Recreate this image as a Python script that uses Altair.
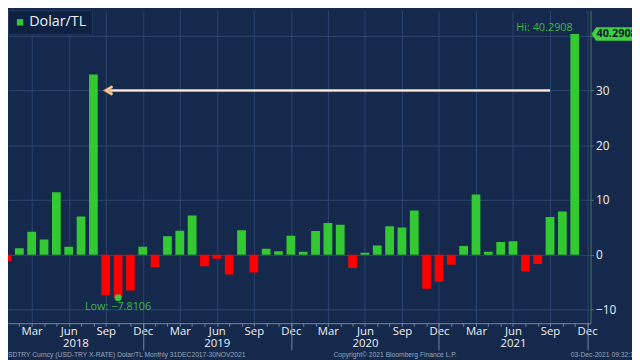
import altair as alt
import pandas as pd

# ---------------- data ----------------
MONTHS = ["Jan", "Feb", "Mar", "Apr", "May", "Jun", "Jul", "Aug", "Sep", "Oct", "Nov", "Dec"]
FIRST_YEAR = 2018          # month index 0 = Jan 2018
SERIES = "Dolar/TL"
# monthly % change of USD/TRY, Jan 2018 .. Nov 2021
VALUES_2018 = [-1.1, 1.2, 4.2, 2.8, 11.4, 1.5, 7.0, 32.9, -7.3, -7.8106, -6.5, 1.5]
VALUES_2019 = [-2.3, 3.4, 4.4, 7.2, -2.1, -0.7, -3.6, 4.5, -3.2, 1.1, 0.65, 3.5]
VALUES_2020 = [0.55, 4.35, 5.8, 5.5, -2.4, 0.4, 1.7, 5.2, 5.0, 8.1, -6.2, -4.9]
VALUES_2021 = [-1.8, 1.6, 11.0, 0.55, 2.35, 2.5, -3.0, -1.65, 6.9, 7.9, 40.2908]
VALUES = VALUES_2018 + VALUES_2019 + VALUES_2020 + VALUES_2021

Y_TICKS = [-10, 0, 10, 20, 30, 40]
YEAR_SEPARATORS = [11, 23, 35, 47]       # December of each year (month index)
ARROW_FROM = 8                           # Sep 2018
ARROW_TO = 44                            # Sep 2021
ARROW_LEVEL = 30

FOOTER_LEFT = "USDTRY Curncy (USD-TRY X-RATE) Dolar/TL  Monthly 31DEC2017-30NOV2021"
FOOTER_MID = "Copyright\u00a9 2021 Bloomberg Finance L.P."
FOOTER_RIGHT = "03-Dec-2021 09:32:15"

X_DOMAIN = [0.08, 47.28]
Y_DOMAIN = [-12.47, 44.63]

# ---------------- style ----------------
BG = "#14294b"
GRID = "#2c4670"
AXIS_X = "#7788a3"
AXIS_Y = "#4f7a5e"
TXT = "#eef0f4"
FOOT = "#9aa6ba"
GREEN = "#33c933"
RED = "#ff0000"
LBL_GREEN = "#43b54b"
TAG_GREEN = "#3fd03f"
LEG_BG = "#0e2140"
LEG_STROKE = "#22395e"
ORANGE = "#e3a35c"
CREAM = "#fff3df"
FONT = "Open Sans"

W, H = 590, 317

df = pd.DataFrame({"i": list(range(len(VALUES))), "value": VALUES})
df["series"] = SERIES

xs = alt.Scale(domain=X_DOMAIN, nice=False, zero=False)
ys = alt.Scale(domain=Y_DOMAIN, nice=False, zero=False)

month_expr = "datum.value % 3 == 2 ? " + str(MONTHS) + "[datum.value % 12] : ''"

x_axis = alt.Axis(
    orient="bottom", title=None, values=list(range(1, 48)), labelExpr=month_expr,
    labelOverlap=False, tickSize=3, tickColor=AXIS_X, domainColor=AXIS_X,
    labelColor=TXT, labelFont=FONT, labelFontSize=11.5, labelBaseline="alphabetic",
    labelPadding=8, grid=True, gridColor=GRID,
    gridOpacity={"condition": {"test": "datum.value % 3 == 2", "value": 1}, "value": 0},
)
year_axis = alt.Axis(
    orient="bottom", title=None,
    values=[(X_DOMAIN[0] + 11) / 2, 17, 29, 41],
    labelExpr="'' + (%d + floor((datum.value + 1) / 12))" % FIRST_YEAR,
    labelOverlap=False, tickSize=0, domain=False, grid=False,
    labelColor=TXT, labelFont=FONT, labelFontSize=11.5, labelBaseline="alphabetic",
    labelPadding=24,
)
sep_axis = alt.Axis(
    orient="bottom", title=None, values=YEAR_SEPARATORS, labels=False,
    tickSize=27, tickColor=AXIS_X, domain=False, grid=False,
)
y_axis = alt.Axis(
    orient="right", title=None, values=Y_TICKS,
    labelExpr="datum.value >= 40 ? '' : datum.label",
    tickSize=3, tickColor=AXIS_Y, domainColor=AXIS_Y, labelPadding=2,
    labelColor=TXT, labelFont=FONT, labelFontSize=12,
    grid=True, gridColor=GRID,
)
legend = alt.Legend(
    title=None, orient="top-left", offset=0, fillColor=LEG_BG, strokeColor=LEG_STROKE,
    padding=5, symbolType="square", symbolSize=42, symbolStrokeWidth=0,
    labelColor=TXT, labelFont=FONT, labelFontSize=14.5, labelOffset=2, cornerRadius=0,
)

base = alt.Chart(df).transform_calculate(x1="datum.i - 0.355", x2="datum.i + 0.355")

pos = base.transform_filter("datum.value >= 0").mark_bar(clip=True).encode(
    x=alt.X("x1:Q", scale=xs, axis=x_axis),
    x2="x2:Q",
    y=alt.Y("value:Q", scale=ys, axis=y_axis),
    y2=alt.datum(0),
    color=alt.Color("series:N", scale=alt.Scale(domain=[SERIES], range=[GREEN]), legend=legend),
)
neg = base.transform_filter("datum.value < 0").mark_bar(clip=True, color=RED).encode(
    x=alt.X("x1:Q", scale=xs, axis=None),
    x2="x2:Q",
    y=alt.Y("value:Q", scale=ys, axis=None),
    y2=alt.datum(0),
)

years_layer = alt.Chart(df).mark_point(opacity=0).encode(
    x=alt.X("i:Q", scale=xs, axis=year_axis),
    y=alt.Y("value:Q", scale=ys, axis=None),
)
sep_layer = alt.Chart(df).mark_point(opacity=0).encode(
    x=alt.X("i:Q", scale=xs, axis=sep_axis),
    y=alt.Y("value:Q", scale=ys, axis=None),
)

# arrow
arrow_df = pd.DataFrame({"a": [ARROW_FROM], "b": [ARROW_TO], "lvl": [ARROW_LEVEL]})
arrow_base = alt.Chart(arrow_df)
arrow_outer = arrow_base.mark_rule(color=ORANGE, strokeWidth=3).encode(
    x=alt.X("a:Q", scale=xs, axis=None), x2="b:Q", y=alt.Y("lvl:Q", scale=ys, axis=None))
arrow_inner = arrow_base.mark_rule(color=CREAM, strokeWidth=1).encode(
    x=alt.X("a:Q", scale=xs, axis=None), x2="b:Q", y=alt.Y("lvl:Q", scale=ys, axis=None))
CHEVRON = "M 1.7 -1 L 0 0 L 1.7 1"
head_outer = arrow_base.mark_point(shape=CHEVRON, size=64, filled=False, color=ORANGE,
                                   strokeWidth=3, opacity=1).encode(
    x=alt.X("a:Q", scale=xs, axis=None), y=alt.Y("lvl:Q", scale=ys, axis=None))
head_inner = arrow_base.mark_point(shape=CHEVRON, size=64, filled=False, color=CREAM,
                                   strokeWidth=1, opacity=1).encode(
    x=alt.X("a:Q", scale=xs, axis=None), y=alt.Y("lvl:Q", scale=ys, axis=None))

# hi / low annotations
hi = alt.Chart(df).transform_joinaggregate(mx="max(value)").transform_filter(
    "datum.value == datum.mx").transform_calculate(
    lab="'Hi: ' + format(datum.value, '.4f')", tag="format(datum.value, '.4f')")
lo = alt.Chart(df).transform_joinaggregate(mn="min(value)").transform_filter(
    "datum.value == datum.mn").transform_calculate(
    lab="'Low: ' + format(datum.value, '.4f')")

hi_text = hi.mark_text(align="right", baseline="alphabetic", dx=-2, dy=-3, color=LBL_GREEN,
                       font=FONT, fontSize=11).encode(
    x=alt.X("i:Q", scale=xs, axis=None), y=alt.Y("value:Q", scale=ys, axis=None), text="lab:N")
lo_text = lo.mark_text(align="center", baseline="alphabetic", dy=12, color=LBL_GREEN,
                       font=FONT, fontSize=11).encode(
    x=alt.X("i:Q", scale=xs, axis=None), y=alt.Y("value:Q", scale=ys, axis=None), text="lab:N")
lo_dot = lo.mark_circle(size=49, color="#3ec63e", opacity=1).encode(
    x=alt.X("i:Q", scale=xs, axis=None), y=alt.Y("value:Q", scale=ys, axis=None))

TAG = "M -1 0 L -0.8 -0.3 L 0.94 -0.3 Q 1 -0.3 1 -0.24 L 1 0.24 Q 1 0.3 0.94 0.3 L -0.8 0.3 Z"
tag_shape = hi.mark_point(shape=TAG, size=2116, filled=True, color=TAG_GREEN, opacity=1,
                          strokeWidth=0).encode(
    x=alt.value(W + 24), y=alt.Y("value:Q", scale=ys, axis=None))
tag_text = hi.mark_text(align="left", baseline="middle", color="#0b1a30", font=FONT,
                        fontSize=11, fontWeight="bold").encode(
    x=alt.value(W + 6), y=alt.Y("value:Q", scale=ys, axis=None), text="tag:N")

# footer
def footer(txt, xpos, align):
    return alt.Chart(pd.DataFrame({"t": [txt]})).mark_text(
        align=align, baseline="alphabetic", color=FOOT, font="Liberation Sans", fontSize=6.8
    ).encode(x=alt.value(xpos), y=alt.value(H + 34), text="t:N")

foot_l = footer(FOOTER_LEFT, -5, "left")
foot_m = footer(FOOTER_MID, 392, "center")
foot_r = footer(FOOTER_RIGHT, 570, "left")

chart = alt.layer(
    pos, neg, years_layer, sep_layer,
    arrow_outer, arrow_inner, head_outer, head_inner,
    lo_dot, hi_text, lo_text, tag_shape, tag_text,
    foot_l, foot_m, foot_r,
).resolve_axis(x="independent", y="independent").properties(
    width=W, height=H,
    autosize=alt.AutoSizeParams(type="none"),
    padding={"left": 0, "top": 0, "right": 42, "bottom": 35},
).configure(background=BG).configure_view(stroke="transparent", fill=BG)

chart.save("out.html", embed_options={"renderer": "svg", "actions": False})
